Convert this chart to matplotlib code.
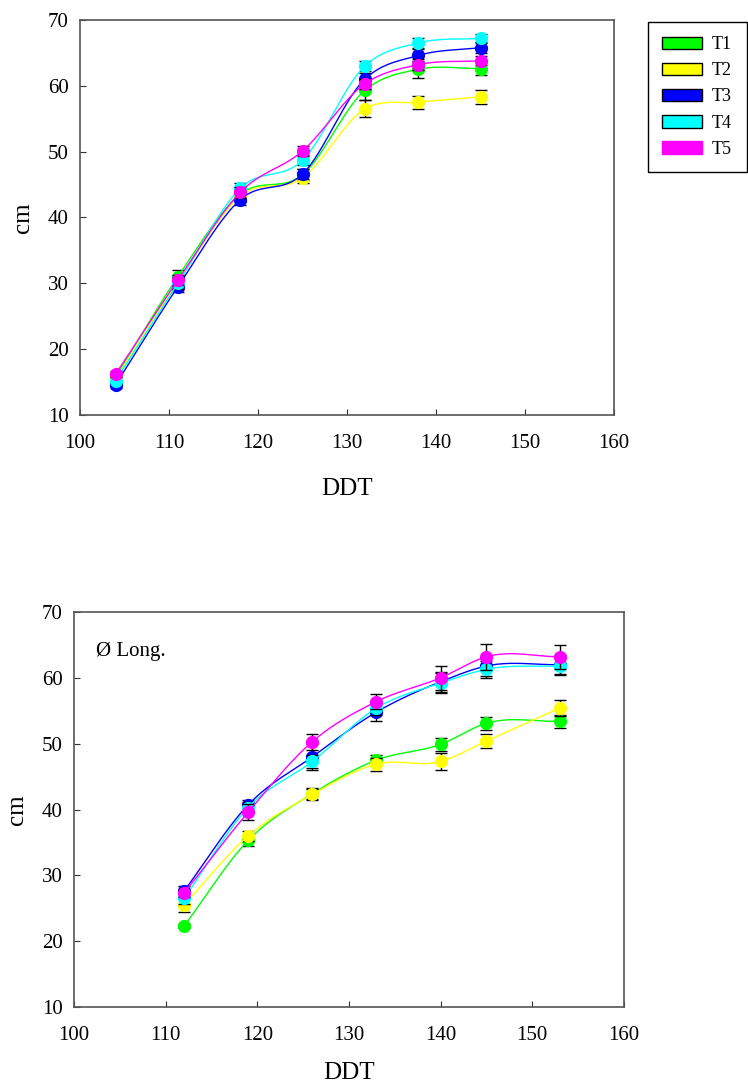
"""
Two stacked growth panels (cm vs DDT) for treatments T1-T5,
with smoothed curves through the means and black error bars.
"""
import matplotlib
matplotlib.use('Agg')
import matplotlib.pyplot as plt
import numpy as np
from matplotlib.patches import Patch

plt.rcParams['font.family'] = ['Liberation Serif', 'DejaVu Serif']

LABELS = ['T1', 'T2', 'T3', 'T4', 'T5']
COLORS = ['#00ff00', '#ffff00', '#0000ff', '#00ffff', '#ff00ff']

# Top panel
TOP_DDT = [104, 111, 118, 125, 132, 138, 145]
TOP_MEANS = [
    [15.8, 31.0, 43.5, 46.5, 59.3, 62.5, 62.6],   # T1
    [15.5, 30.2, 43.2, 46.0, 56.5, 57.5, 58.3],   # T2
    [14.6, 29.5, 42.7, 46.6, 61.0, 64.6, 65.8],   # T3
    [15.2, 30.0, 44.4, 48.7, 63.0, 66.5, 67.2],   # T4
    [16.2, 30.5, 43.8, 50.1, 60.3, 63.2, 63.8],   # T5
]
TOP_ERR = [
    [0.5, 1.0, 0.8, 0.8, 1.5, 1.3, 1.0],
    [0.5, 0.8, 0.8, 0.8, 1.3, 1.0, 1.0],
    [0.5, 0.8, 0.8, 0.8, 1.0, 1.0, 0.8],
    [0.5, 0.8, 0.8, 0.8, 0.7, 0.8, 0.7],
    [0.5, 0.8, 0.8, 0.8, 0.8, 0.8, 0.7],
]

# Bottom panel
BOT_DDT = [112, 119, 126, 133, 140, 145, 153]
BOT_MEANS = [
    [22.3, 35.3, 42.4, 47.5, 49.9, 53.1, 53.4],   # T1
    [25.5, 36.0, 42.3, 46.9, 47.3, 50.4, 55.4],   # T2
    [27.6, 40.7, 48.0, 54.8, 59.4, 61.8, 62.0],   # T3
    [26.5, 40.3, 47.3, 55.4, 59.2, 61.3, 61.8],   # T4
    [27.3, 39.6, 50.3, 56.4, 60.0, 63.2, 63.2],   # T5
]
BOT_ERR = [
    [0.3, 0.8, 0.8, 0.8, 1.0, 1.0, 1.0],
    [1.0, 0.8, 0.8, 1.0, 1.3, 1.0, 1.2],
    [0.8, 0.8, 2.0, 1.3, 1.5, 1.5, 1.5],
    [0.8, 0.8, 1.0, 1.0, 1.5, 1.3, 1.2],
    [0.6, 1.2, 1.2, 1.2, 1.8, 2.0, 1.8],
]


def smooth_curve(x, y, n=40):
    """Cubic Hermite curve through the points, slopes from finite differences."""
    x = np.asarray(x, float)
    y = np.asarray(y, float)
    m = np.gradient(y, x)
    xs, ys = [], []
    for i in range(len(x) - 1):
        h = x[i + 1] - x[i]
        t = np.linspace(0, 1, n)
        h00 = 2 * t**3 - 3 * t**2 + 1
        h10 = t**3 - 2 * t**2 + t
        h01 = -2 * t**3 + 3 * t**2
        h11 = t**3 - t**2
        xs.append(x[i] + t * h)
        ys.append(h00 * y[i] + h10 * h * m[i] + h01 * y[i + 1] + h11 * h * m[i + 1])
    return np.concatenate(xs), np.concatenate(ys)


def draw_panel(ax, ddt, means, errs, xlabelpad):
    for k, (yv, ev) in enumerate(zip(means, errs)):
        ax.errorbar(ddt, yv, yerr=ev, fmt='none', ecolor='black',
                    elinewidth=1.0, capsize=4, capthick=1.0, zorder=2 + 3 * k)
        xs, ys = smooth_curve(ddt, yv)
        ax.plot(xs, ys, color=COLORS[k], lw=1.0, zorder=3 + 3 * k)
        ax.plot(ddt, yv, 'o', color=COLORS[k], ms=8.5, mec=COLORS[k],
                zorder=4 + 3 * k)
    ax.set_xlim(100, 160)
    ax.set_ylim(10, 70)
    ax.set_xticks(range(100, 161, 10))
    ax.set_yticks(range(10, 71, 10))
    ax.tick_params(direction='in', length=4, labelsize=15, color='#333333')
    ax.tick_params(axis='x', pad=14)
    ax.tick_params(axis='y', pad=8)
    for s in ax.spines.values():
        s.set_color('#555555')
        s.set_linewidth(1.2)
    ax.set_xlabel('DDT', fontsize=18, labelpad=xlabelpad)
    ax.set_ylabel('cm', fontsize=18, labelpad=10)


fig = plt.figure(figsize=(7.48, 10.89), dpi=100)
ax1 = fig.add_axes([0.107, 0.619, 0.714, 0.3627])
ax2 = fig.add_axes([0.099, 0.0753, 0.735, 0.3627])

draw_panel(ax1, TOP_DDT, TOP_MEANS, TOP_ERR, 18)
draw_panel(ax2, BOT_DDT, BOT_MEANS, BOT_ERR, 12)

ax2.text(0.04, 0.9, 'Ø Long.', transform=ax2.transAxes, fontsize=15,
         ha='left', va='center')

handles = [Patch(facecolor=c, edgecolor=('black' if lab != 'T5' else c), lw=1.0)
           for c, lab in zip(COLORS, LABELS)]
leg = fig.legend(handles, LABELS, loc='upper left',
                 bbox_to_anchor=(648 / 748, 1 - 22 / 1089),
                 fontsize=13, fancybox=False, framealpha=1, edgecolor='black',
                 handlelength=2.2, handleheight=0.7, borderpad=0.8,
                 labelspacing=0.5, handletextpad=0.55, borderaxespad=0)
leg.get_frame().set_linewidth(1.0)

fig.savefig('out.png', dpi=100)
